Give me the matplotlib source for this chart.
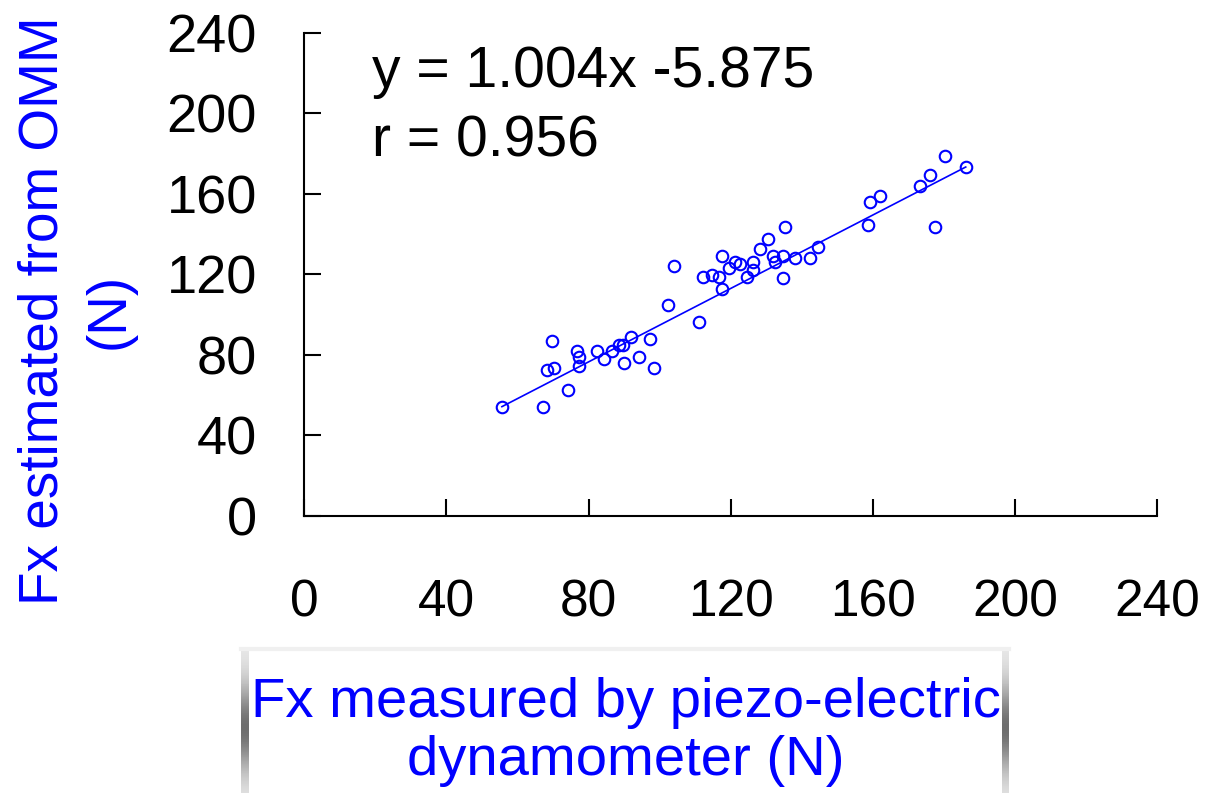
import numpy as np
import matplotlib.pyplot as plt

# valeurs
fx_piezo = [55.6, 67.2, 74.3, 69.6, 68.4, 70.3, 76.6, 77.3, 77.3, 82.4,
            84.2, 86.6, 88.6, 89.8, 91.9, 90.0, 94.3, 97.2, 98.3, 102.4,
            104.1, 111.1, 112.3, 114.8, 116.6, 117.6, 117.6, 119.4, 121.1, 122.6,
            124.6, 126.3, 126.3, 128.2, 130.5, 131.8, 132.4, 134.6, 135.2, 134.6,
            138.2, 142.3, 144.5, 159.2, 162.1, 158.6, 173.2, 176.1, 180.2, 177.4,
            186.1]
fx_omm = [54.3, 54.3, 62.6, 87.0, 72.6, 73.6, 82.1, 78.8, 74.6, 81.9,
          77.8, 81.9, 85.1, 85.1, 89.0, 75.8, 78.8, 88.0, 73.6, 104.6,
          124.0, 96.3, 118.8, 119.7, 118.8, 112.6, 129.1, 123.0, 126.3, 125.0,
          118.8, 122.1, 126.3, 132.4, 137.4, 129.1, 126.0, 129.1, 143.3, 118.0,
          128.1, 128.1, 133.4, 155.8, 158.7, 144.5, 164.0, 169.2, 178.6, 143.3,
          173.3]
# droite tracee sur la figure (extremites lues)
fit_x = [55.6, 186.1]
fit_y = [54.3, 173.3]
ticks = [0, 40, 80, 120, 160, 200, 240]
equation = 'y = 1.004x -5.875'
r_text = 'r = 0.956'

plt.rcParams['font.family'] = ['Liberation Sans', 'DejaVu Sans']
W, H = 1209, 793

fig = plt.figure(figsize=(W / 100, H / 100), dpi=100)
ax = fig.add_axes([304.3 / W, 1 - 516 / H, 853 / W, 483.3 / H])

ax.plot(fx_piezo, fx_omm, 'o', mfc='none', mec='#0000ff', ms=8.3, mew=1.5, clip_on=False)
ax.plot(fit_x, fit_y, color='#0000ff', lw=1.2)

ax.set_xlim(0, 240)
ax.set_ylim(0, 240)
ax.set_xticks(ticks)
ax.set_yticks(ticks)
ax.set_xticklabels([str(t) for t in ticks], fontsize=37)
ax.set_yticklabels([str(t) for t in ticks], fontsize=39)
ax.tick_params(direction='in', length=12.2, width=1.5, color='black')
ax.tick_params(axis='x', pad=45)
ax.tick_params(axis='y', pad=34)
for s in ['top', 'right']:
    ax.spines[s].set_visible(False)
for s in ['left', 'bottom']:
    ax.spines[s].set_linewidth(1.5)

ax.text(19.0, 213.0, equation, fontsize=41, va='baseline')
ax.text(19.0, 178.3, r_text, fontsize=41, va='baseline')

fig.text(77 / W, 1 - 311 / H, 'Fx estimated from OMM\n(N)', rotation=90,
         ha='center', va='center', multialignment='center', color='#0000ff',
         fontsize=39.5, linespacing=1.35)
fig.text(626 / W, 1 - 732 / H, 'Fx measured by piezo-electric\ndynamometer (N)',
         ha='center', va='center', multialignment='center', color='#0000ff',
         fontsize=40.5, linespacing=1.17)

# bords gris du cadre de l'etiquette x
over = fig.add_axes([0, 0, 1, 1], zorder=-1)
over.set_xlim(0, W)
over.set_ylim(H, 0)
over.axis('off')
yy = np.linspace(0, 1, 100)
grad = 235 - 125 * np.exp(-((yy - 0.55) / 0.3) ** 2)
grad = np.repeat(grad[:, None], 2, axis=1) / 255
over.imshow(grad, cmap='gray', vmin=0, vmax=1, extent=[241, 249, 793, 648], aspect='auto')
over.imshow(grad, cmap='gray', vmin=0, vmax=1, extent=[1002, 1009, 793, 648], aspect='auto')
over.plot([241, 1009], [649, 649], color='#f0f0f0', lw=3)

fig.savefig('out.png', dpi=100)
